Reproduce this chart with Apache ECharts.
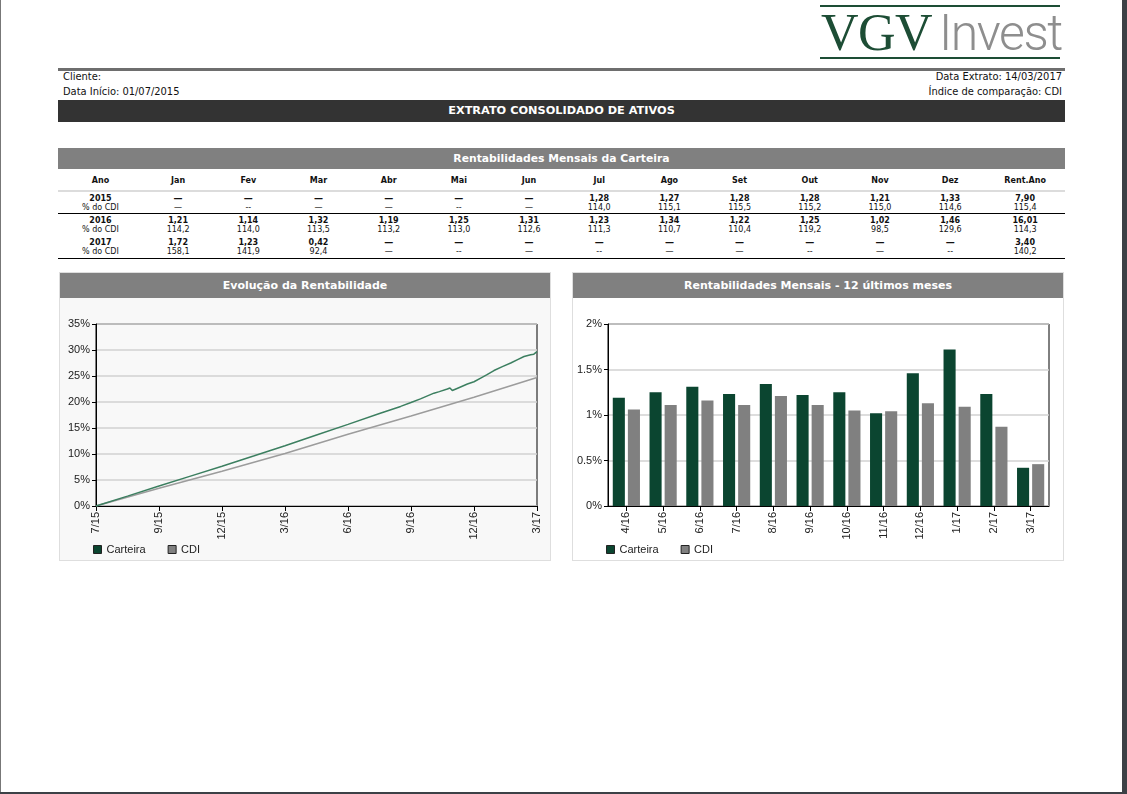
<!DOCTYPE html>
<html>
<head>
<meta charset="utf-8">
<script src="https://cdn.jsdelivr.net/npm/echarts/dist/echarts.min.js"></script>
<style>
html,body{margin:0;padding:0;background:#fff;}
body{width:1127px;height:794px;position:relative;overflow:hidden;font-family:'DejaVu Sans',sans-serif;}
.abs{position:absolute;}
#edgeL{left:0;top:0;width:1px;height:794px;background:#777;}
#edgeR{left:1122px;top:0;width:5px;height:794px;background:#3c4146;}
#edgeB{left:0;top:792px;width:1127px;height:2px;background:#3c4146;}
.logoLine{left:820px;width:240px;height:2px;background:#1d4d35;}
#logoVGV{left:821px;top:4px;font-family:'Liberation Serif','DejaVu Serif',serif;font-size:52px;line-height:58px;color:#1d4d35;letter-spacing:-0.5px;}
#logoInv{left:939px;top:4px;font-family:'Roboto','Liberation Sans',sans-serif;font-weight:300;font-size:50px;line-height:58px;color:#8e8e8e;letter-spacing:-1.5px;}
#rule{left:58px;top:68px;width:1007px;height:3px;background:#6e6e6e;}
.info{font-family:'DejaVu Sans Condensed','DejaVu Sans',sans-serif;font-size:11px;line-height:12px;color:#111;white-space:nowrap;}
.bar{left:58px;width:1007px;color:#fff;font-weight:bold;text-align:center;white-space:nowrap;}
#mainBar{top:100px;height:22px;line-height:22px;background:#333;font-size:11.3px;}
#tblBar{top:148px;height:21px;line-height:21px;background:#808080;font-size:10.8px;}
#tbl{left:58px;top:170px;width:1007px;border-collapse:collapse;table-layout:fixed;font-size:8px;color:#111;}
#tbl th{height:20px;padding:0;font-weight:bold;border-bottom:2px solid #dcdcdc;vertical-align:middle;text-align:center;}
#tbl td{padding:1.5px 0 0 0;vertical-align:top;text-align:center;line-height:9px;}
#tbl tr.g1 td{height:19.5px;border-bottom:1px solid #000;}
#tbl tr.g2 td{height:20.5px;}
#tbl tr.g3 td{height:20.5px;border-bottom:1px solid #000;}
#tbl b{font-weight:bold;}
.panel{top:272px;width:492px;height:289px;box-sizing:border-box;border:1px solid #dedede;}
.phead{left:0;top:0;width:490px;height:25px;line-height:25px;background:#808080;color:#fff;font-weight:bold;font-size:11px;text-align:center;white-space:nowrap;}
.chart{top:298px;width:492px;height:262px;}
</style>
</head>
<body>
<div id="edgeL" class="abs"></div>
<div id="edgeR" class="abs"></div>
<div id="edgeB" class="abs"></div>

<div class="abs logoLine" style="top:5px"></div>
<div class="abs logoLine" style="top:57px"></div>
<div id="logoVGV" class="abs">VGV</div>
<div id="logoInv" class="abs">Invest</div>
<div id="rule" class="abs"></div>

<div class="abs info" style="left:63px;top:71px">Cliente:</div>
<div class="abs info" style="left:63px;top:86px">Data Início: 01/07/2015</div>
<div class="abs info" style="right:65px;top:71px">Data Extrato: 14/03/2017</div>
<div class="abs info" style="right:65px;top:86px">Índice de comparação: CDI</div>

<div id="mainBar" class="abs bar">EXTRATO CONSOLIDADO DE ATIVOS</div>
<div id="tblBar" class="abs bar">Rentabilidades Mensais da Carteira</div>
<table id="tbl" class="abs"></table>

<div class="abs panel" style="left:59px;background:#f8f8f8;"><div class="abs phead">Evolução da Rentabilidade</div></div>
<div class="abs panel" style="left:572px;background:#fff;"><div class="abs phead">Rentabilidades Mensais - 12 últimos meses</div></div>
<div id="c1" class="abs chart" style="left:59px"></div>
<div id="c2" class="abs chart" style="left:572px"></div>

<script>
// ---------- table data ----------
const tableCols = ['Ano','Jan','Fev','Mar','Abr','Mai','Jun','Jul','Ago','Set','Out','Nov','Dez','Rent.Ano'];
const tableYears = ['2015','2016','2017'];
const rent2015 = [null,null,null,null,null,null,1.28,1.27,1.28,1.28,1.21,1.33,7.90];
const cdi2015  = ['—','--','—','—','--','—',114.0,115.1,115.5,115.2,115.0,114.6,115.4];
const rent2016 = [1.21,1.14,1.32,1.19,1.25,1.31,1.23,1.34,1.22,1.25,1.02,1.46,16.01];
const cdi2016  = [114.2,114.0,113.5,113.2,113.0,112.6,111.3,110.7,110.4,119.2,98.5,129.6,114.3];
const rent2017 = [1.72,1.23,0.42,null,null,null,null,null,null,null,null,null,3.40];
const cdi2017  = [158.1,141.9,92.4,'—','--','—','--','—','—','--','—','--',140.2];

// ---------- line chart data ----------
const evoTickLabels = ['7/15','9/15','12/15','3/16','6/16','9/16','12/16','3/17'];
const evoCartPos = [0,0.5,1,1.5,2,2.5,3,3.5,4,4.5,4.835,5.0,5.15,5.364,5.45,5.577,5.618,5.656,5.75,5.895,6.0,6.106,6.2,6.317,6.45,6.583,6.7,6.794,6.9,6.95,7.0];
const evoCartVal = [0,1.9,3.85,5.75,7.65,9.6,11.6,13.65,15.7,17.8,19.15,19.9,20.6,21.7,22.0,22.5,22.7,22.2,22.7,23.45,23.9,24.6,25.2,26.05,26.8,27.5,28.2,28.75,29.1,29.2,29.7];
const evoCdiPos = [0,1,2,3,4,5,6,7];
const evoCdiVal = [0,3.4,6.7,10.1,13.8,17.3,20.9,24.7];

// ---------- bar chart data ----------
const barMonths = ['4/16','5/16','6/16','7/16','8/16','9/16','10/16','11/16','12/16','1/17','2/17','3/17'];
const barCarteira = [1.19,1.25,1.31,1.23,1.34,1.22,1.25,1.02,1.46,1.72,1.23,0.42];
const barCDI = [1.06,1.11,1.16,1.11,1.21,1.11,1.05,1.04,1.13,1.09,0.87,0.46];

// ---------- build table ----------
(function(){
  const t = document.getElementById('tbl');
  let h = '<colgroup><col style="width:85px">';
  for (let i=0;i<12;i++) h += '<col style="width:70.2px">';
  h += '<col style="width:79.6px"></colgroup><tr>';
  tableCols.forEach(c => h += '<th>'+c+'</th>');
  h += '</tr>';
  const rents = [rent2015, rent2016, rent2017];
  const cdis = [cdi2015, cdi2016, cdi2017];
  const fmt2 = v => v.toFixed(2).replace('.',',');
  const fmt1 = v => typeof v === 'number' ? v.toFixed(1).replace('.',',') : v;
  tableYears.forEach((y, gi) => {
    h += '<tr class="g'+(gi+1)+'"><td><b>'+y+'</b><br>% do CDI</td>';
    for (let i=0;i<13;i++){
      const r = rents[gi][i];
      const top = r === null ? '<b style="font-size:9px">—</b>' : '<b>'+fmt2(r)+'</b>';
      h += '<td>'+top+'<br>'+fmt1(cdis[gi][i])+'</td>';
    }
    h += '</tr>';
  });
  t.innerHTML = h;
})();

// ---------- charts ----------
const FONT = 'Liberation Sans';
const labelStyle = {fontFamily: FONT, fontSize: 11, color: '#222'};
const GREEN_DARK = '#0b4530', GREEN_LINE = '#3c7f60', GRAY_BAR = '#808080', GRAY_LINE = '#9c9c9c';

function legendCfg(){
  return {
    left: 34, top: 246, padding: 0, itemWidth: 8, itemHeight: 8, itemGap: 22, icon: 'rect',
    textStyle: {fontFamily: FONT, fontSize: 11, color: '#222'},
    data: [
      {name: 'Carteira', icon: 'rect', itemStyle: {color: GREEN_DARK, borderColor: '#222', borderWidth: 1}},
      {name: 'CDI', icon: 'rect', itemStyle: {color: GRAY_BAR, borderColor: '#222', borderWidth: 1}}
    ]
  };
}

const c1 = echarts.init(document.getElementById('c1'), null, {renderer: 'canvas'});
c1.setOption({
  animation: false,
  backgroundColor: 'transparent',
  grid: {left: 37, top: 26, width: 441, height: 182, show: true, backgroundColor: '#f8f8f8', borderColor: '#000', borderWidth: 1},
  legend: legendCfg(),
  xAxis: {
    type: 'value', min: 0, max: 7, interval: 1,
    axisLine: {show: true, lineStyle: {color: '#000', width: 1}},
    axisTick: {show: true, length: 5, lineStyle: {color: '#000'}},
    axisLabel: Object.assign({rotate: 90, margin: 6, formatter: v => evoTickLabels[Math.round(v)] || ''}, labelStyle),
    splitLine: {show: false}
  },
  yAxis: {
    type: 'value', min: 0, max: 35, interval: 5,
    axisLine: {show: true, lineStyle: {color: '#000', width: 1}},
    axisTick: {show: true, length: 4, lineStyle: {color: '#000'}},
    axisLabel: Object.assign({margin: 6, formatter: '{value}%'}, labelStyle),
    splitLine: {show: true, lineStyle: {color: '#d2d2d2', width: 1.5}}
  },
  series: [
    {name: 'Carteira', type: 'line', showSymbol: false, symbol: 'none', z: 3,
     lineStyle: {color: GREEN_LINE, width: 1.5}, itemStyle: {color: GREEN_DARK},
     data: evoCartPos.map((x, i) => [x, evoCartVal[i]])},
    {name: 'CDI', type: 'line', showSymbol: false, symbol: 'none', z: 2,
     lineStyle: {color: GRAY_LINE, width: 1.5}, itemStyle: {color: GRAY_BAR},
     data: evoCdiPos.map((x, i) => [x, evoCdiVal[i]])}
  ]
});

const c2 = echarts.init(document.getElementById('c2'), null, {renderer: 'canvas'});
c2.setOption({
  animation: false,
  backgroundColor: 'transparent',
  grid: {left: 36, top: 26, width: 441, height: 182, show: true, backgroundColor: '#fff', borderColor: '#000', borderWidth: 1},
  legend: legendCfg(),
  xAxis: {
    type: 'category', data: barMonths, boundaryGap: true,
    axisLine: {show: true, lineStyle: {color: '#000', width: 1}},
    axisTick: {show: true, alignWithLabel: true, length: 5, lineStyle: {color: '#000'}},
    axisLabel: Object.assign({rotate: 90, margin: 6, interval: 0}, labelStyle),
    splitLine: {show: false}
  },
  yAxis: {
    type: 'value', min: 0, max: 2, interval: 0.5,
    axisLine: {show: true, lineStyle: {color: '#000', width: 1}},
    axisTick: {show: true, length: 4, lineStyle: {color: '#000'}},
    axisLabel: Object.assign({margin: 6, formatter: v => v + '%'}, labelStyle),
    splitLine: {show: true, lineStyle: {color: '#d2d2d2', width: 1.5}}
  },
  series: [
    {name: 'Carteira', type: 'bar', barGap: '25%', barCategoryGap: '26%',
     itemStyle: {color: GREEN_DARK}, data: barCarteira},
    {name: 'CDI', type: 'bar', barGap: '25%', barCategoryGap: '26%',
     itemStyle: {color: GRAY_BAR}, data: barCDI}
  ]
});
</script>
</body>
</html>
